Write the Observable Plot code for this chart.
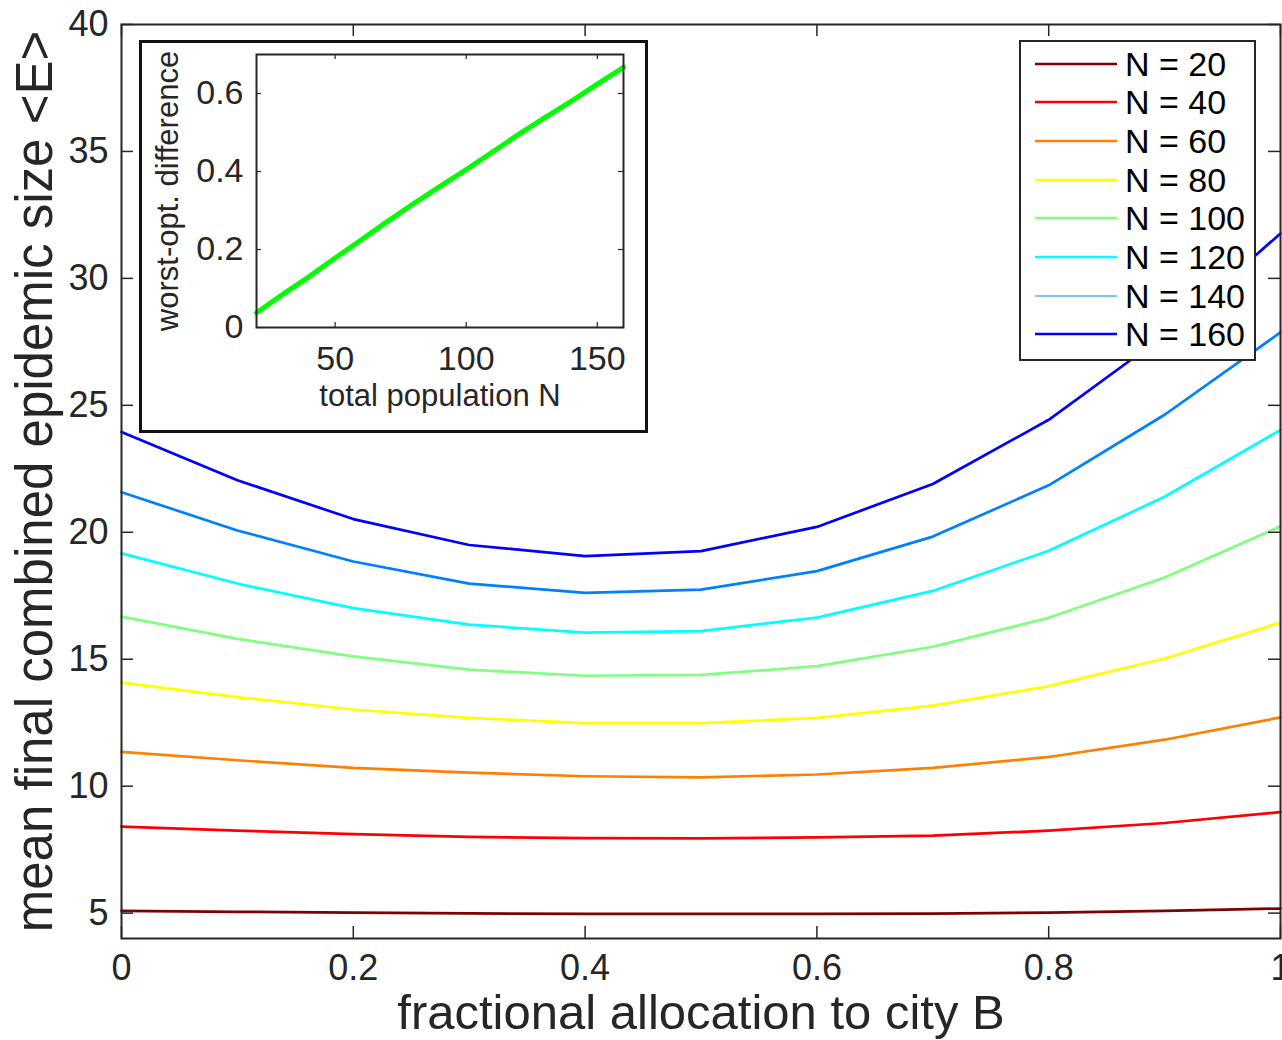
<!DOCTYPE html>
<html>
<head>
<meta charset="utf-8">
<script src="https://cdn.jsdelivr.net/npm/d3@7"></script>
<script src="https://cdn.jsdelivr.net/npm/@observablehq/plot@0.6"></script>
<style>
  html, body { margin: 0; padding: 0; background: #fff; }
  #fig { position: relative; width: 1282px; height: 1040px; overflow: hidden;
         font-family: "Liberation Sans", Arial, Helvetica, sans-serif; }
  #inset { position: absolute; left: 139px; top: 40px; width: 509px; height: 393px;
           box-sizing: border-box; border: 3px solid #111; background: #fff; }
  #legend { position: absolute; left: 1019px; top: 40px; width: 237px; height: 321px;
            box-sizing: border-box; border: 2.5px solid #262626; background: #fff; }
  .entry { position: absolute; left: 0; height: 38px; width: 232px; }
  .entry svg { position: absolute; left: 13px; top: 0; }
  .entry span { position: absolute; left: 104px; top: 0; line-height: 38px;
                font-size: 34px; color: #000; white-space: nowrap; }
</style>
</head>
<body>
<div id="fig"></div>
<script>
// ---------------- data ----------------
const allocation = [0, 0.1, 0.2, 0.3, 0.4, 0.5, 0.6, 0.7, 0.8, 0.9, 1];
const populations = [20, 40, 60, 80, 100, 120, 140, 160];

const E_N20  = [5.09, 5.05, 5.02, 4.99, 4.97, 4.97, 4.97, 4.98, 5.02, 5.09, 5.18];
const E_N40  = [8.41, 8.25, 8.11, 8.00, 7.95, 7.94, 7.98, 8.05, 8.25, 8.55, 8.98];
const E_N60  = [11.35, 11.02, 10.72, 10.53, 10.39, 10.35, 10.46, 10.72, 11.15, 11.83, 12.71];
const E_N80  = [14.08, 13.51, 13.02, 12.69, 12.48, 12.48, 12.69, 13.17, 13.94, 15.03, 16.44];
const E_N100 = [16.68, 15.80, 15.11, 14.59, 14.35, 14.38, 14.73, 15.49, 16.63, 18.22, 20.24];
const E_N120 = [19.17, 17.98, 17.01, 16.36, 16.05, 16.11, 16.64, 17.69, 19.27, 21.40, 24.03];
const E_N140 = [21.58, 20.07, 18.85, 17.98, 17.61, 17.74, 18.47, 19.83, 21.85, 24.63, 27.87];
const E_N160 = [23.95, 22.05, 20.52, 19.50, 19.06, 19.26, 20.21, 21.90, 24.43, 27.76, 31.77];

const seriesColors = ["#800000", "#ff0000", "#ff8000", "#ffff00", "#80ff80", "#00ffff", "#0080ff", "#0000ff"];
const legendLabels = populations.map(n => `N = ${n}`);

const xTicks = [0, 0.2, 0.4, 0.6, 0.8, 1];
const yTicks = [5, 10, 15, 20, 25, 30, 35, 40];
const xLabel = "fractional allocation to city B";
const yLabel = "mean final combined epidemic size <E>";

// inset
const insetN    = [20, 30, 40, 50, 60, 70, 80, 90, 100, 110, 120, 130, 140, 150, 160];
const insetDiff = [0.038, 0.085, 0.130, 0.178, 0.225, 0.272, 0.318, 0.362, 0.405, 0.450, 0.495, 0.538, 0.580, 0.624, 0.667];
const insetXTicks = [50, 100, 150];
const insetYTicks = [0, 0.2, 0.4, 0.6];
const insetXLabel = "total population N";
const insetYLabel = "worst-opt. difference";

// ---------------- build ----------------
const ink = "#262626";
const font = "'Liberation Sans', Arial, Helvetica, sans-serif";
const seriesValues = [E_N20, E_N40, E_N60, E_N80, E_N100, E_N120, E_N140, E_N160];
const rows = populations.flatMap((n, i) => allocation.map((a, j) => ({n, a, e: seriesValues[i][j]})));

const W = 1282, H = 1040, mL = 121, mR = 2, mT = 24, mB = 102;
const pW = W - mL - mR, pH = H - mT - mB, tk = 12;

const main = Plot.plot({
  width: W, height: H,
  marginLeft: mL, marginRight: mR, marginTop: mT, marginBottom: mB,
  style: {fontFamily: font, fontSize: "36px", color: ink, background: "transparent"},
  x: {domain: [0, 1], ticks: xTicks, tickSize: 0, tickPadding: 16, label: null, tickFormat: d => String(d)},
  y: {domain: [4, 40], ticks: yTicks, tickSize: 0, tickPadding: 13, label: null, tickFormat: d => String(d)},
  color: {type: "ordinal", domain: populations, range: seriesColors},
  marks: [
    Plot.lineY(rows, {x: "a", y: "e", z: "n", stroke: "n", strokeWidth: 2.7, curve: "linear"}),
    Plot.tickX(xTicks, {x: d => d, stroke: ink, strokeWidth: 1.5, insetTop: pH - tk}),
    Plot.tickX(xTicks, {x: d => d, stroke: ink, strokeWidth: 1.5, insetBottom: pH - tk}),
    Plot.tickY(yTicks, {y: d => d, stroke: ink, strokeWidth: 1.5, insetRight: pW - tk}),
    Plot.tickY(yTicks, {y: d => d, stroke: ink, strokeWidth: 1.5, insetLeft: pW - tk}),
    Plot.frame({stroke: ink, strokeWidth: 2}),
    Plot.text([xLabel], {text: d => d, frameAnchor: "bottom", textAnchor: "middle", lineAnchor: "middle", dy: 75, fontSize: 49, fill: ink}),
    Plot.text([yLabel], {text: d => d, frameAnchor: "left", textAnchor: "middle", lineAnchor: "middle", dx: -86, rotate: -90, fontSize: 51, fill: ink})
  ]
});

const fig = document.getElementById("fig");
fig.appendChild(main);
main.style.position = "absolute";
main.style.left = "0px";
main.style.top = "0px";

// inset
const iW = 503, iH = 387, imL = 114, imR = 22, imT = 11, imB = 103;
const ipW = iW - imL - imR, ipH = iH - imT - imB, itk = 5;
const inset = Plot.plot({
  width: iW, height: iH,
  marginLeft: imL, marginRight: imR, marginTop: imT, marginBottom: imB,
  style: {fontFamily: font, fontSize: "34px", color: ink, background: "#fff"},
  x: {domain: [20, 160], ticks: insetXTicks, tickSize: 0, tickPadding: 18, label: null, tickFormat: d => String(d)},
  y: {domain: [0, 0.7], ticks: insetYTicks, tickSize: 0, tickPadding: 13, label: null, tickFormat: d => String(d)},
  marks: [
    Plot.lineY(insetDiff, {x: insetN, stroke: "#00ff00", strokeWidth: 5}),
    Plot.tickX(insetXTicks, {x: d => d, stroke: ink, strokeWidth: 1.2, insetTop: ipH - itk}),
    Plot.tickX(insetXTicks, {x: d => d, stroke: ink, strokeWidth: 1.2, insetBottom: ipH - itk}),
    Plot.tickY(insetYTicks, {y: d => d, stroke: ink, strokeWidth: 1.2, insetRight: ipW - itk}),
    Plot.tickY(insetYTicks, {y: d => d, stroke: ink, strokeWidth: 1.2, insetLeft: ipW - itk}),
    Plot.frame({stroke: ink, strokeWidth: 2}),
    Plot.text([insetXLabel], {text: d => d, frameAnchor: "bottom", textAnchor: "middle", lineAnchor: "middle", dy: 69, fontSize: 31, fill: ink}),
    Plot.text([insetYLabel], {text: d => d, frameAnchor: "left", textAnchor: "middle", lineAnchor: "middle", dx: -88, rotate: -90, fontSize: 31, fill: ink})
  ]
});
const insetBox = document.createElement("div");
insetBox.id = "inset";
insetBox.appendChild(inset);
fig.appendChild(insetBox);

// legend (from the same arrays)
const legend = document.createElement("div");
legend.id = "legend";
populations.forEach((n, i) => {
  const e = document.createElement("div");
  e.className = "entry";
  e.style.top = (2.5 + i * 38.7) + "px";
  const sw = n === 140 ? 1.2 : 2.5;
  e.innerHTML = `<svg width="84" height="38"><line x1="1" x2="83" y1="19" y2="19" stroke="${seriesColors[i]}" stroke-width="${sw}"/></svg><span>${legendLabels[i]}</span>`;
  legend.appendChild(e);
});
fig.appendChild(legend);
</script>
</body>
</html>
